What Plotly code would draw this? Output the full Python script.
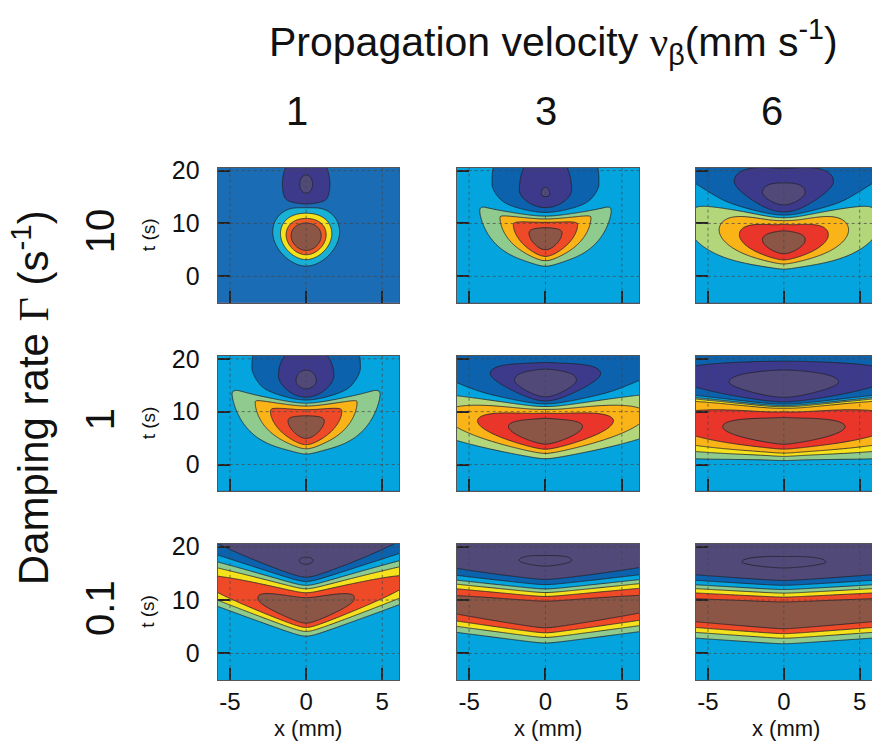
import numpy as np
import plotly.graph_objects as go

# ---------------- chart values ----------------
VELOCITY_LABELS = ["1", "3", "6"]          # propagation velocity (mm/s), columns
DAMPING_LABELS = ["10", "1", "0.1"]        # damping rate (1/s), rows
X_TICKS = [-5, 0, 5]
T_TICKS = [0, 10, 20]
X_RANGE = [-5.81, 6.12]
X_RANGE_LAST = [-5.81, 5.81]
T_RANGE = [-4.97, 20.56]

# response parameters (row-major: damping 10,1,0.1 x velocity 1,3,6)
P_PEAK      = [7.4, 7.3, 6.4, 7.1, 6.3, 6.2, 7.8, 7.3, 7.1]
P_RISE      = [4.1, 4.24, 3.96, 4.03, 4.1, 3.96, 3.8, 4.45, 4.4]
P_FALL      = [4.4, 3.54, 4.1, 3.96, 4.1, 4.53, 4.8, 4.5, 4.6]
P_POWER     = [2, 2, 2, 2, 2, 2, 2.6, 2.6, 2.6]
P_RISE_GROW = [0, 2.2, 0.9, 2.4, 0.3, 0.4, 0, 0, 0]
P_FALL_GROW = [0, -1.0, 1.1, -1.0, 0.3, 0.4, -0.14, 0, 0]
P_CORE      = [5, 0.5, 0.4, 0.5, 0.3, 0.3, 0.3, 0.3, 0.3]
P_LENGTH    = [0.26, 2.4, 3.7, 2.75, 6.0, 10.5, 12.9, 40, 76]
P_SLOPE     = [0.7, 1.7, 0.7, 1.8, 0.55, 0.3, 0.95, 0.34, 0.18]
P_CORNER    = [1.0, 0.8, 1.0, 0.8, 1.0, 1.0, 0.5, 0.5, 0.5]

N_DEPTH     = [0.215, 0.275, 0.5, 0.3, 0.67, 0.6, 0.405, 0.41, 0.412]
N_PEAK      = [17.4, 15.5, 15.0, 15.4, 15.0, 14.8, 17.1, 17.0, 16.7]
N_RISE      = [4.3, 3.11, 3.11, 3.39, 2.82, 3.11, 4.24, 4.24, 4.24]
N_FALL      = [4.6, 9.9, 5.66, 7.5, 3.9, 4.53, 8.49, 8.49, 8.49]
N_CORE      = [5, 5, 2, 5, 0.5, 1, 1, 5, 5]
N_LENGTH    = [0.12, 0.42, 2.0, 0.42, 2.6, 6.0, 9.0, 12, 25]
N_SLOPE     = [0.0, 0.8, 1.2, 1.0, 0.8, 0.3, 0.95, 0.31, 0.17]
N_CORNER    = [1, 1, 1, 0.5, 1, 1, 0.5, 0.5, 0.5]

SWITCH_T      = [13.5, 11.8, 11.45, 12.0, 11.3, 11.3, 13.3, 12.7, 12.6]
SWITCH_WIDTH  = [0.25, 0.3, 0.25, 0.3, 0.25, 0.25, 0.6, 0.6, 0.6]
SWITCH_SLOPE  = [0.5, 0.7, 0.56, 0.8, 0.45, 0.29, 0.95, 0.31, 0.17]
SWITCH_CORNER = [1, 1.5, 1, 1.5, 1, 1, 0.5, 0.5, 0.5]

PANEL_LEVELS = [
    [-0.185, -0.03, 0.17, 0.345, 0.52, 0.69],
    [-0.27, -0.14, -0.02, 0.2, 0.35, 0.5, 0.75],
    [-0.4, -0.2, -0.02, 0.2, 0.35, 0.5, 0.75],
    [-0.27, -0.14, -0.02, 0.2, 0.35, 0.5, 0.75],
    [-0.364, -0.2, -0.02, 0.2, 0.35, 0.5, 0.7],
    [-0.38, -0.2, -0.02, 0.15, 0.25, 0.35, 0.5, 0.7],
    [-0.4, -0.2, -0.02, 0.2, 0.4, 0.6, 0.8],
    [-0.4, -0.2, -0.02, 0.2, 0.4, 0.6, 0.8],
    [-0.4, -0.2, -0.02, 0.2, 0.4, 0.6, 0.8],
]
PANEL_BANDS = [
    ["DP", "PU", "BL1", "CY1", "YE", "OR", "BR"],
    ["DP", "PU", "BL", "CY", "GR", "GO", "RE", "BR"],
    ["DP", "PU", "BL", "CY", "GR2", "GO", "RE2", "BR"],
    ["DP", "PU", "BL", "CY", "GR", "GO", "RE", "BR"],
    ["DP", "PU", "BL", "CY", "GR2", "GO", "RE2", "BR"],
    ["DP", "PU", "BL", "CY", "GR", "YE", "GO", "RE2", "BR"],
    ["DP", "DP", "BL", "CY", "GR", "YE", "RE", "BR"],
    ["DP", "DP", "BL", "CY", "GR", "YE", "RE", "BR"],
    ["DP", "DP", "BL", "CY", "GR", "YE", "RE", "BR"],
]
PALETTE = {
    "DP": "#514a79", "PU": "#3d3a8c", "BL": "#0c62ad", "BL1": "#1a6cb5",
    "CY": "#04a5df", "CY1": "#18b0d4", "GR": "#8fcb8e", "GR2": "#b4d67a",
    "YE": "#f6e21c", "GO": "#fbb417", "OR": "#f05b24", "RE": "#ef4a27",
    "RE2": "#e9352a", "BR": "#8c5646",
}

# ---------------- field construction ----------------
xg = np.linspace(-6.3, 6.3, 190)
tg = np.linspace(-5.5, 21.2, 240)
XX, TT = np.meshgrid(xg, tg)


def soft_abs(v, a):
    return np.sqrt(v * v + a * a) - a


def lobe(tau, w_rise, w_fall, power):
    w = np.where(tau < 0, w_rise, w_fall)
    return np.exp(-(np.abs(tau) / w) ** power)


def panel_field(i):
    ax = soft_abs(XX, 2.0)
    amp_p = np.exp(-soft_abs(XX, P_CORE[i]) / P_LENGTH[i])
    tau_p = TT - P_PEAK[i] - P_SLOPE[i] * soft_abs(XX, P_CORNER[i])
    wr = P_RISE[i] + P_RISE_GROW[i] * ax
    wf = np.maximum(P_FALL[i] + P_FALL_GROW[i] * ax, 0.8)
    pos = amp_p * lobe(tau_p, wr, wf, P_POWER[i])

    amp_n = N_DEPTH[i] * np.exp(-soft_abs(XX, N_CORE[i]) / N_LENGTH[i])
    tau_n = TT - N_PEAK[i] - N_SLOPE[i] * soft_abs(XX, N_CORNER[i])
    neg = amp_n * lobe(tau_n, N_RISE[i], N_FALL[i], 2)

    t_sw = SWITCH_T[i] + SWITCH_SLOPE[i] * soft_abs(XX, SWITCH_CORNER[i])
    s = 1.0 / (1.0 + np.exp(-(TT - t_sw) / SWITCH_WIDTH[i]))
    return (1 - s) * pos - s * neg


def level_index(f, levels):
    lv = np.asarray(levels, dtype=float)
    k = np.arange(len(lv), dtype=float)
    out = np.interp(f, lv, k)
    lo = f < lv[0]
    hi = f > lv[-1]
    out[lo] = (f[lo] - lv[0]) / (lv[1] - lv[0])
    out[hi] = k[-1] + (f[hi] - lv[-1]) / (lv[-1] - lv[-2])
    return out


# ---------------- layout geometry (pixels) ----------------
W, H = 872, 743
COL_L = [217.7, 456.7, 695.7]
COL_R = [399.3, 639.0, 872.0]
ROW_T = [159.0, 350.0, 540.7]
ROW_B = [296.0, 487.0, 679.0]
FONT = "Liberation Sans, Arial, sans-serif"

fig = go.Figure()
layout_axes = {}
shapes = []

for r in range(3):
    for c in range(3):
        i = r * 3 + c
        n = i + 1
        xa = "x" if n == 1 else f"x{n}"
        ya = "y" if n == 1 else f"y{n}"
        lv = PANEL_LEVELS[i]
        bands = PANEL_BANDS[i]
        nc = len(lv)
        cscale = [[k / nc, PALETTE[b]] for k, b in enumerate(bands)]
        z = np.round(level_index(panel_field(i), lv), 3)
        fig.add_trace(go.Contour(
            x=xg, y=tg, z=z, xaxis=xa, yaxis=ya,
            autocontour=False,
            contours=dict(start=0, end=nc - 1, size=1, coloring="fill", showlines=True),
            colorscale=cscale, showscale=False,
            line=dict(color="rgba(35,35,45,0.9)", width=0.9, smoothing=1.0),
            hoverinfo="skip",
        ))
        xr = X_RANGE_LAST if c == 2 else X_RANGE
        xkey = "xaxis" if n == 1 else f"xaxis{n}"
        ykey = "yaxis" if n == 1 else f"yaxis{n}"
        layout_axes[xkey] = dict(
            domain=[COL_L[c] / W, COL_R[c] / W], range=xr, anchor=ya,
            tickvals=X_TICKS, ticktext=[str(v) for v in X_TICKS],
            showticklabels=(r == 2), ticks="inside", ticklen=12, tickwidth=1.6,
            tickcolor="#222", showline=True, linecolor="#555", linewidth=1.2,
            mirror=True, showgrid=False, zeroline=False, layer="above traces",
            tickfont=dict(size=24, color="#111", family=FONT), ticklabelstandoff=0,
        )
        layout_axes[ykey] = dict(
            domain=[1 - ROW_B[r] / H, 1 - ROW_T[r] / H], range=T_RANGE, anchor=xa,
            tickvals=T_TICKS, ticktext=[str(v) for v in T_TICKS],
            showticklabels=(c == 0), ticks="inside", ticklen=12, tickwidth=1.6,
            tickcolor="#222", showline=True, linecolor="#555", linewidth=1.2,
            mirror=(c != 2), showgrid=False, zeroline=False, layer="above traces",
            tickfont=dict(size=25, color="#111", family=FONT), ticklabelstandoff=12,
        )
        for xv in X_TICKS:
            shapes.append(dict(type="line", xref=xa, yref=ya, x0=xv, x1=xv,
                               y0=T_RANGE[0], y1=T_RANGE[1], layer="above",
                               line=dict(color="rgba(70,70,70,0.7)", width=1, dash="dot")))
        for tv in T_TICKS:
            shapes.append(dict(type="line", xref=xa, yref=ya, x0=xr[0], x1=xr[1],
                               y0=tv, y1=tv, layer="above",
                               line=dict(color="rgba(70,70,70,0.7)", width=1, dash="dot")))

annotations = []


def ann(text, px, py, size, angle=0):
    annotations.append(dict(text=text, x=px / W, y=1 - py / H, xref="paper", yref="paper",
                            showarrow=False, xanchor="center", yanchor="middle",
                            textangle=angle, font=dict(size=size, color="#111", family=FONT)))


ann("Propagation velocity <span style=\"font-family:'Liberation Serif'\">ν</span><sub>β</sub>(mm s<sup>-1</sup>)",
    553, 31, 41)
for lab, px in zip(VELOCITY_LABELS, [297, 546, 772]):
    ann(lab, px, 101, 40)
ann("Damping rate <span style=\"font-family:'Liberation Serif'\">Γ</span> (s<sup>-1</sup>)", 31, 393, 42, -90)
for r, lab in enumerate(DAMPING_LABELS):
    cy = (ROW_T[r] + ROW_B[r]) / 2
    ann(lab, 100, cy - 4, 40, -90)
    ann("t (s)", 148, cy, 19, -90)
for px in [308, 548, 786]:
    ann("x (mm)", px, 728, 22)

fig.update_layout(
    width=W, height=H, margin=dict(l=0, r=0, t=0, b=0),
    paper_bgcolor="white", plot_bgcolor="white", showlegend=False,
    annotations=annotations, shapes=shapes, **layout_axes,
)
fig.write_html("out.html")
